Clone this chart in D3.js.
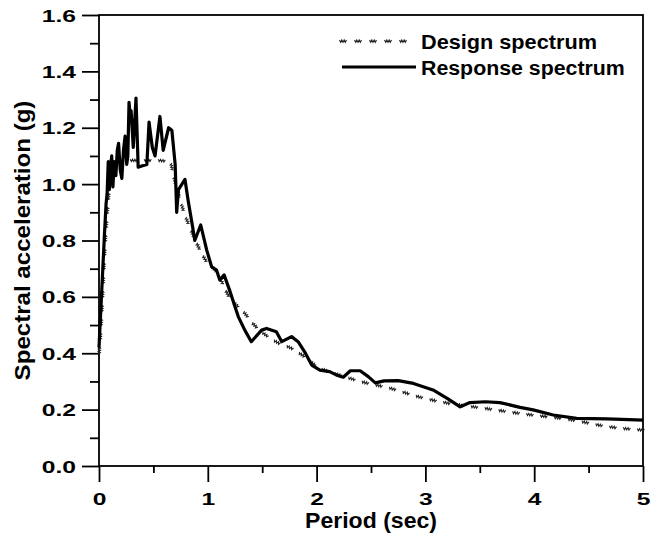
<!DOCTYPE html>
<html>
<head>
<meta charset="utf-8">
<script src="https://cdn.jsdelivr.net/npm/d3@7/dist/d3.min.js"></script>
<style>
  html, body { margin: 0; padding: 0; background: #fff; }
  svg text { font-family: "Liberation Sans", Arial, Helvetica, sans-serif; font-weight: bold; fill: #000; }
</style>
</head>
<body>
<svg id="chart" width="662" height="537"></svg>
<script>
// Design spectrum (code spectrum), period in seconds vs spectral acceleration in g
const designPeriod = [0, 0.02, 0.05, 0.08, 0.12, 0.15, 0.3, 0.5, 0.65, 0.7, 0.77, 0.85, 0.93, 1.0, 1.08, 1.2,
  1.33, 1.43, 1.556, 1.66, 1.77, 1.89, 2.0, 2.2, 2.43, 2.67, 2.95, 3.2, 3.53, 3.93, 4.3, 4.72, 5.0];
const designSa = [0.40, 0.52, 0.76, 0.93, 1.06, 1.085, 1.085, 1.085, 1.08, 1.01, 0.915, 0.835, 0.766, 0.72, 0.69, 0.60,
  0.547, 0.50, 0.459, 0.435, 0.418, 0.388, 0.355, 0.325, 0.298, 0.277, 0.245, 0.224, 0.206, 0.184, 0.167, 0.138, 0.128];

// Response spectrum of the recorded motion
const responsePeriod = [0, 0.02, 0.035, 0.05, 0.065, 0.075, 0.085, 0.095, 0.105, 0.117, 0.128, 0.14, 0.155, 0.168,
  0.18, 0.195, 0.21, 0.225, 0.24, 0.255, 0.265, 0.276, 0.285, 0.295, 0.315, 0.34, 0.36, 0.40, 0.44, 0.46, 0.49,
  0.515, 0.56, 0.59, 0.64, 0.67, 0.70, 0.714, 0.73, 0.79, 0.82, 0.86, 0.88, 0.935, 0.99, 1.035, 1.08, 1.11, 1.15,
  1.20, 1.25, 1.28, 1.34, 1.40, 1.495, 1.54, 1.63, 1.68, 1.77, 1.83, 1.89, 1.955, 2.03, 2.12, 2.18, 2.245, 2.31,
  2.40, 2.475, 2.54, 2.62, 2.75, 2.89, 3.07, 3.20, 3.32, 3.41, 3.55, 3.685, 3.87, 3.99, 4.175, 4.39, 4.67, 5.0];
const responseSa = [0.42, 0.58, 0.70, 0.82, 0.93, 0.97, 1.08, 0.98, 1.06, 1.10, 0.99, 1.08, 1.03, 1.12,
  1.145, 1.05, 1.02, 1.12, 1.17, 1.07, 1.10, 1.29, 1.25, 1.26, 1.13, 1.305, 1.06, 1.065, 1.07, 1.22, 1.13,
  1.10, 1.24, 1.12, 1.20, 1.19, 1.07, 0.90, 0.98, 1.017, 0.94, 0.85, 0.80, 0.855, 0.766, 0.707, 0.695, 0.66, 0.678,
  0.624, 0.565, 0.53, 0.482, 0.441, 0.482, 0.488, 0.476, 0.441, 0.459, 0.441, 0.405, 0.358, 0.34, 0.335, 0.323, 0.315, 0.338,
  0.338, 0.317, 0.295, 0.302, 0.303, 0.293, 0.27, 0.24, 0.21, 0.225, 0.228, 0.225, 0.208, 0.199, 0.181, 0.169, 0.167, 0.163];

const xTicks = [0, 1, 2, 3, 4, 5];
const yTicks = [0.0, 0.2, 0.4, 0.6, 0.8, 1.0, 1.2, 1.4, 1.6];
const legendLabels = ["Design spectrum", "Response spectrum"];
const xTitle = "Period (sec)";
const yTitle = "Spectral acceleration (g)";

const W = 662, H = 537;
const margin = { top: 15, right: 19, bottom: 71, left: 99 };
const svg = d3.select("#chart");

const x = d3.scaleLinear().domain([0, 5]).range([margin.left, W - margin.right]);
const y = d3.scaleLinear().domain([0, 1.6]).range([H - margin.bottom, margin.top]);

// Wide, heavy lettering: stretch a text horizontally to a given width
function fitWidth(sel, width) {
  sel.each(function () {
    const t = d3.select(this);
    const w = this.getComputedTextLength();
    const base = t.attr("data-base") || "";
    t.attr("transform", `${base} scale(${width / w},1)`);
  });
}

// Frame
svg.append("rect")
  .attr("x", x(0)).attr("y", y(1.6))
  .attr("width", x(5) - x(0)).attr("height", y(0) - y(1.6))
  .attr("fill", "none").attr("stroke", "#000").attr("stroke-width", 1.8);

// X axis: outward ticks every 0.5 s, labels on whole seconds
const xAxis = d3.axisBottom(x).tickValues(d3.range(0, 5.01, 0.5))
  .tickSize(0).tickFormat("");
const gx = svg.append("g").attr("transform", `translate(0,${y(0)})`).call(xAxis);
gx.select(".domain").remove();
gx.selectAll(".tick line")
  .attr("y2", d => Number.isInteger(d) ? 16 : 7)
  .attr("stroke", "#000").attr("stroke-width", 1.8);
gx.selectAll(".tick").filter(d => xTicks.includes(d)).append("text")
  .attr("transform", "translate(0,39) scale(1.45,1)")
  .attr("text-anchor", "middle")
  .style("font-size", "17px")
  .text(d => d3.format("d")(d));

// Y axis: outward ticks every 0.1 g, labels every 0.2 g
const yAxis = d3.axisLeft(y).tickValues(d3.range(0, 1.601, 0.1))
  .tickSize(0).tickFormat("");
const gy = svg.append("g").attr("transform", `translate(${x(0)},0)`).call(yAxis);
gy.select(".domain").remove();
gy.selectAll(".tick line")
  .attr("x2", (d, i) => i % 2 === 0 ? -17 : -9)
  .attr("stroke", "#000").attr("stroke-width", 1.8);
gy.selectAll(".tick").filter((d, i) => i % 2 === 0).append("text")
  .attr("transform", "translate(-23,6) scale(1.45,1)")
  .attr("text-anchor", "end")
  .style("font-size", "17px")
  .text(d => d3.format(".1f")(d));

// Axis titles
svg.append("text")
  .attr("data-base", `translate(${(x(0) + x(5)) / 2},528)`)
  .attr("text-anchor", "middle").style("font-size", "22px")
  .text(xTitle)
  .call(fitWidth, 132);
svg.append("text")
  .attr("data-base", `translate(30,${(y(0) + y(1.6)) / 2}) rotate(-90)`)
  .attr("text-anchor", "middle").style("font-size", "22.5px")
  .text(yTitle)
  .call(fitWidth, 280);

const designPts = d3.zip(designPeriod, designSa);
const responsePts = d3.zip(responsePeriod, responseSa);

// Small double-wave glyphs placed along a path, following its direction
const zig = "M-3.5,-1L-2.3,1.3L-1.2,-1L0,1.3L1.2,-1L2.3,1.3L3.5,-1";
function zigzagAlong(g, pathNode, step) {
  const len = pathNode.getTotalLength();
  for (let l = 3; l < len; l += step) {
    const p = pathNode.getPointAtLength(l);
    const q = pathNode.getPointAtLength(Math.min(len, l + 0.5));
    const ang = Math.atan2(q.y - p.y, q.x - p.x) * 180 / Math.PI;
    g.append("path")
      .attr("d", zig)
      .attr("transform", `translate(${p.x},${p.y}) rotate(${ang})`)
      .attr("fill", "none").attr("stroke", "#222").attr("stroke-width", 1.1);
  }
}

// Design spectrum: guide path with wave marks along it
const designGuide = svg.append("path")
  .datum(designPts)
  .attr("d", d3.line().x(d => x(d[0])).y(d => y(d[1])).curve(d3.curveMonotoneX))
  .attr("fill", "none").attr("stroke", "none");
zigzagAlong(svg.append("g"), designGuide.node(), 14);

// Response spectrum: heavy solid line
svg.append("path")
  .datum(responsePts)
  .attr("d", d3.line().x(d => x(d[0])).y(d => y(d[1])).curve(d3.curveLinear))
  .attr("fill", "none").attr("stroke", "#000")
  .attr("stroke-width", 3.2).attr("stroke-linejoin", "round");

// Legend
const lg = svg.append("g");
const lgGuide = lg.append("path")
  .attr("d", d3.line()([[340, 41], [414, 41]]))
  .attr("stroke", "none").attr("fill", "none");
zigzagAlong(lg, lgGuide.node(), 15);
lg.append("line").attr("x1", 342).attr("x2", 416).attr("y1", 67).attr("y2", 67)
  .attr("stroke", "#000").attr("stroke-width", 3.2);
lg.selectAll("text.lab").data(legendLabels).join("text")
  .attr("class", "lab")
  .attr("data-base", (d, i) => `translate(421,${49 + i * 26})`)
  .style("font-size", "20.5px")
  .text(d => d)
  .each(function (d, i) {
    d3.select(this).call(fitWidth, [176, 204][i]);
  });
</script>
</body>
</html>
